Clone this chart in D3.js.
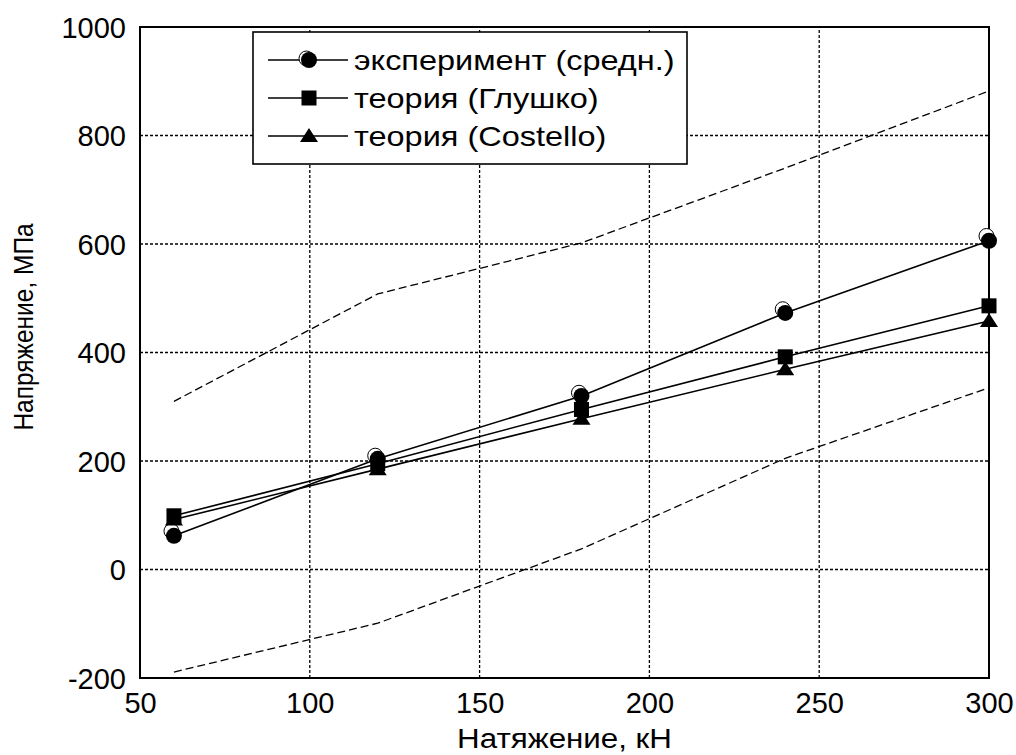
<!DOCTYPE html>
<html>
<head>
<meta charset="utf-8">
<script src="https://cdn.jsdelivr.net/npm/d3@7"></script>
<style>
  body { margin: 0; background: #fff; }
  svg { font-family: "Liberation Sans", Arial, sans-serif; }
</style>
</head>
<body>
<div id="chart"></div>
<script>
const loads = [60, 120, 180, 240, 300];
const experiment = [62, 204, 320, 473, 606];
const experimentAlt = [68, 207, 323, 477, 612];
const glushko = [99, 195, 295, 392, 486];
const costello = [92, 185, 278, 369, 458];
const upperBound = [310, 508, 602, 740, 882];
const lowerBound = [-189, -99, 38, 205, 335];
const xTicks = [50, 100, 150, 200, 250, 300];
const yTicks = [-200, 0, 200, 400, 600, 800, 1000];
const legendLabels = ["эксперимент (средн.)", "теория (Глушко)", "теория (Costello)"];

const width = 1016, height = 755;
const margin = {left: 140, right: 27, top: 27, bottom: 77};
const stretch = 1.16; // text in the picture is a bit wider than tall

const svg = d3.select("#chart").append("svg")
  .attr("width", width)
  .attr("height", height);

const x = d3.scaleLinear().domain([50, 300]).range([margin.left, width - margin.right]);
const y = d3.scaleLinear().domain([-200, 1000]).range([height - margin.bottom, margin.top]);

// grid
svg.append("g").selectAll("line")
  .data(xTicks.slice(1, -1))
  .enter().append("line")
  .attr("x1", d => x(d)).attr("x2", d => x(d))
  .attr("y1", y(-200)).attr("y2", y(1000))
  .attr("stroke", "#000").attr("stroke-width", 1.3)
  .attr("stroke-dasharray", "3 2");

svg.append("g").selectAll("line")
  .data(yTicks.slice(1, -1))
  .enter().append("line")
  .attr("x1", x(50)).attr("x2", x(300))
  .attr("y1", d => y(d)).attr("y2", d => y(d))
  .attr("stroke", "#000").attr("stroke-width", 1.3)
  .attr("stroke-dasharray", "3 2");

// axes
const xAxis = svg.append("g")
  .attr("transform", `translate(0,${y(-200)})`)
  .call(d3.axisBottom(x).tickValues(xTicks).tickFormat(d => String(d)).tickSize(0).tickPadding(0));
const yAxis = svg.append("g")
  .attr("transform", `translate(${x(50)},0)`)
  .call(d3.axisLeft(y).tickValues(yTicks).tickFormat(d => String(d)).tickSize(0).tickPadding(14));
[xAxis, yAxis].forEach(g => {
  g.select(".domain").remove();
  g.selectAll("text").attr("font-size", 29).attr("fill", "#000")
    .attr("font-family", "'Liberation Sans', Arial, sans-serif");
});
xAxis.selectAll("text").attr("y", 35).attr("dy", null);
yAxis.selectAll("text").attr("dy", "0.36em");

svg.append("rect")
  .attr("x", x(50)).attr("y", y(1000))
  .attr("width", x(300) - x(50)).attr("height", y(-200) - y(1000))
  .attr("fill", "none").attr("stroke", "#000").attr("stroke-width", 2);

// titles
svg.append("text")
  .attr("transform", `translate(${(x(50) + x(300)) / 2},748) scale(${stretch},1)`)
  .attr("text-anchor", "middle").attr("font-size", 27)
  .text("Натяжение, кН");
svg.append("text")
  .attr("transform", `translate(33,327) rotate(-90) scale(1,${stretch})`)
  .attr("text-anchor", "middle").attr("font-size", 24.5)
  .text("Напряжение, МПа");

// bounds
const line = d3.line().x((d, i) => x(loads[i])).y(d => y(d));
[upperBound, lowerBound].forEach(b => {
  svg.append("path").attr("d", line(b))
    .attr("fill", "none").attr("stroke", "#000").attr("stroke-width", 1.3)
    .attr("stroke-dasharray", "8 4");
});

// series
[experiment, glushko, costello].forEach(s => {
  svg.append("path").attr("d", line(s))
    .attr("fill", "none").attr("stroke", "#000").attr("stroke-width", 1.6);
});

function circleMarker(g, cx, cy, cyAlt) {
  g.append("circle").attr("cx", cx - 2.5).attr("cy", cyAlt - 1.5).attr("r", 7.5)
    .attr("fill", "#fff").attr("stroke", "#000").attr("stroke-width", 1);
  g.append("circle").attr("cx", cx).attr("cy", cy).attr("r", 8).attr("fill", "#000");
}
function squareMarker(g, cx, cy) {
  g.append("rect").attr("x", cx - 7.5).attr("y", cy - 7.5).attr("width", 15).attr("height", 15)
    .attr("fill", "#000");
}
function triMarker(g, cx, cy) {
  g.append("path").attr("d", `M${cx},${cy - 8}L${cx + 9},${cy + 6}L${cx - 9},${cy + 6}Z`)
    .attr("fill", "#000");
}

const marks = svg.append("g");
loads.forEach((l, i) => {
  circleMarker(marks, x(l), y(experiment[i]), y(experimentAlt[i]));
  squareMarker(marks, x(l), y(glushko[i]));
  triMarker(marks, x(l), y(costello[i]));
});

// legend
const legend = svg.append("g").attr("transform", "translate(253,32)");
legend.append("rect").attr("width", 434).attr("height", 132)
  .attr("fill", "#fff").attr("stroke", "#000").attr("stroke-width", 1.6);
const markerFns = [
  (g, cx, cy) => circleMarker(g, cx, cy, cy),
  squareMarker,
  triMarker
];
legendLabels.forEach((t, i) => {
  const cy = 28 + i * 38;
  legend.append("line").attr("x1", 15).attr("x2", 95).attr("y1", cy).attr("y2", cy)
    .attr("stroke", "#000").attr("stroke-width", 1.6);
  markerFns[i](legend, 56, cy, cy);
  legend.append("text")
    .attr("transform", `translate(101,${cy}) scale(${stretch},1)`)
    .attr("dy", "0.36em")
    .attr("font-size", 28).text(t);
});
</script>
</body>
</html>
